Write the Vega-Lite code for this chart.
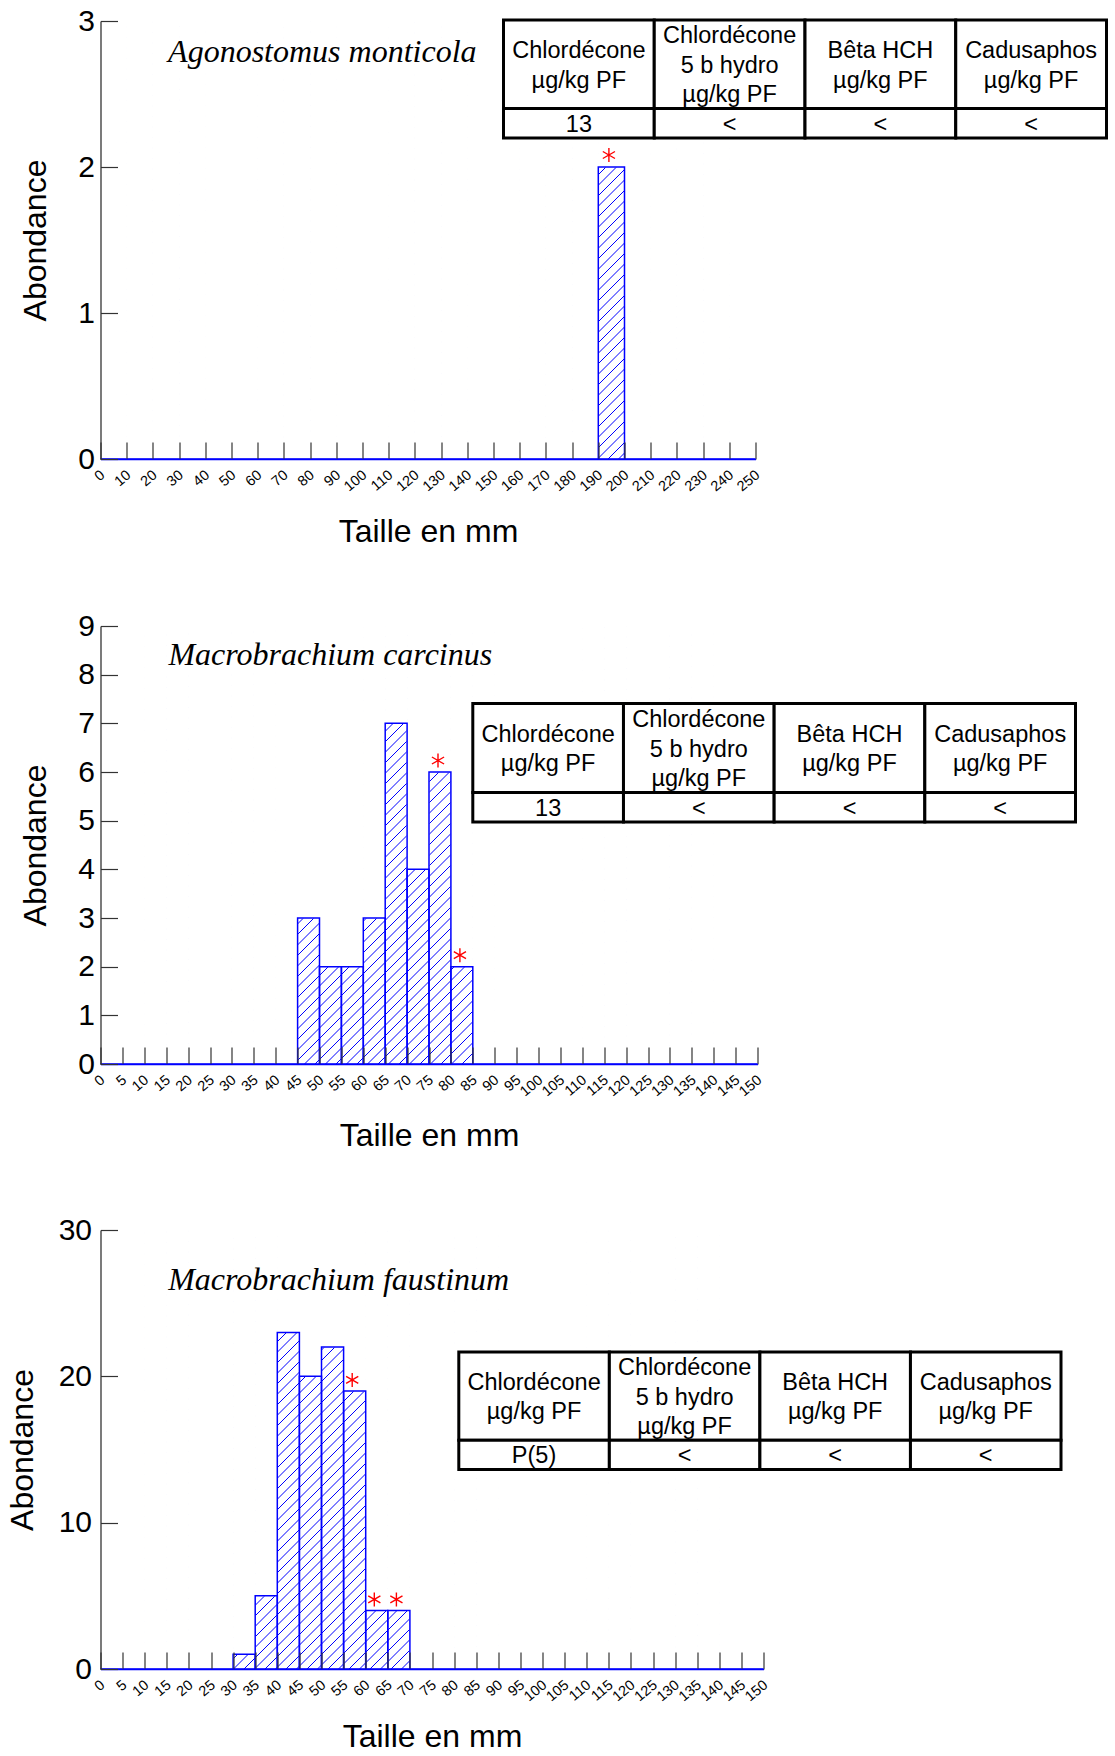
{
  "$schema": "https://vega.github.io/schema/vega-lite/v6.json",
  "background": "white",
  "padding": {"left": 6.5, "top": 6, "right": 0, "bottom": 0},
  "columns": 1,
  "align": "none",
  "spacing": 63,
  "config": {
    "view": {"stroke": null},
    "font": "Liberation Sans",
    "axis": {"labelColor": "black", "titleColor": "black", "titleFontWeight": "normal", "grid": false, "zindex": 1},
    "axisX": {"tickSize": -17, "tickColor": "#333333", "tickWidth": 1.2, "domainColor": "#0000ff", "domainWidth": 1.5,
      "labelAngle": -40, "labelAlign": "right", "labelBaseline": "middle", "labelFontSize": 14.5, "labelPadding": 31, "labelOffset": 2,
      "labelFlush": false, "labelOverlap": false, "titleFontSize": 32},
    "axisY": {"tickSize": -17, "tickColor": "#333333", "tickWidth": 1.2, "domainColor": "#333333", "domainWidth": 1.3,
      "labelFontSize": 30, "labelPadding": 23, "titleFontSize": 32}
  },
  "datasets": {
    "ago": [
      {"de": 0, "a": 10, "effectif": 0}, {"de": 10, "a": 20, "effectif": 0}, {"de": 20, "a": 30, "effectif": 0},
      {"de": 30, "a": 40, "effectif": 0}, {"de": 40, "a": 50, "effectif": 0}, {"de": 50, "a": 60, "effectif": 0},
      {"de": 60, "a": 70, "effectif": 0}, {"de": 70, "a": 80, "effectif": 0}, {"de": 80, "a": 90, "effectif": 0},
      {"de": 90, "a": 100, "effectif": 0}, {"de": 100, "a": 110, "effectif": 0}, {"de": 110, "a": 120, "effectif": 0},
      {"de": 120, "a": 130, "effectif": 0}, {"de": 130, "a": 140, "effectif": 0}, {"de": 140, "a": 150, "effectif": 0},
      {"de": 150, "a": 160, "effectif": 0}, {"de": 160, "a": 170, "effectif": 0}, {"de": 170, "a": 180, "effectif": 0},
      {"de": 180, "a": 190, "effectif": 0}, {"de": 190, "a": 200, "effectif": 2, "marque": true},
      {"de": 200, "a": 210, "effectif": 0}, {"de": 210, "a": 220, "effectif": 0}, {"de": 220, "a": 230, "effectif": 0},
      {"de": 230, "a": 240, "effectif": 0}, {"de": 240, "a": 250, "effectif": 0}
    ],
    "carcinus": [
      {"de": 0, "a": 5, "effectif": 0}, {"de": 5, "a": 10, "effectif": 0}, {"de": 10, "a": 15, "effectif": 0},
      {"de": 15, "a": 20, "effectif": 0}, {"de": 20, "a": 25, "effectif": 0}, {"de": 25, "a": 30, "effectif": 0},
      {"de": 30, "a": 35, "effectif": 0}, {"de": 35, "a": 40, "effectif": 0}, {"de": 40, "a": 45, "effectif": 0},
      {"de": 45, "a": 50, "effectif": 3}, {"de": 50, "a": 55, "effectif": 2}, {"de": 55, "a": 60, "effectif": 2},
      {"de": 60, "a": 65, "effectif": 3}, {"de": 65, "a": 70, "effectif": 7}, {"de": 70, "a": 75, "effectif": 4},
      {"de": 75, "a": 80, "effectif": 6, "marque": true}, {"de": 80, "a": 85, "effectif": 2, "marque": true},
      {"de": 85, "a": 90, "effectif": 0}, {"de": 90, "a": 95, "effectif": 0}, {"de": 95, "a": 100, "effectif": 0},
      {"de": 100, "a": 105, "effectif": 0}, {"de": 105, "a": 110, "effectif": 0}, {"de": 110, "a": 115, "effectif": 0},
      {"de": 115, "a": 120, "effectif": 0}, {"de": 120, "a": 125, "effectif": 0}, {"de": 125, "a": 130, "effectif": 0},
      {"de": 130, "a": 135, "effectif": 0}, {"de": 135, "a": 140, "effectif": 0}, {"de": 140, "a": 145, "effectif": 0},
      {"de": 145, "a": 150, "effectif": 0}
    ],
    "faustinum": [
      {"de": 0, "a": 5, "effectif": 0}, {"de": 5, "a": 10, "effectif": 0}, {"de": 10, "a": 15, "effectif": 0},
      {"de": 15, "a": 20, "effectif": 0}, {"de": 20, "a": 25, "effectif": 0}, {"de": 25, "a": 30, "effectif": 0},
      {"de": 30, "a": 35, "effectif": 1}, {"de": 35, "a": 40, "effectif": 5}, {"de": 40, "a": 45, "effectif": 23},
      {"de": 45, "a": 50, "effectif": 20}, {"de": 50, "a": 55, "effectif": 22},
      {"de": 55, "a": 60, "effectif": 19, "marque": true}, {"de": 60, "a": 65, "effectif": 4, "marque": true},
      {"de": 65, "a": 70, "effectif": 4, "marque": true},
      {"de": 70, "a": 75, "effectif": 0}, {"de": 75, "a": 80, "effectif": 0}, {"de": 80, "a": 85, "effectif": 0},
      {"de": 85, "a": 90, "effectif": 0}, {"de": 90, "a": 95, "effectif": 0}, {"de": 95, "a": 100, "effectif": 0},
      {"de": 100, "a": 105, "effectif": 0}, {"de": 105, "a": 110, "effectif": 0}, {"de": 110, "a": 115, "effectif": 0},
      {"de": 115, "a": 120, "effectif": 0}, {"de": 120, "a": 125, "effectif": 0}, {"de": 125, "a": 130, "effectif": 0},
      {"de": 130, "a": 135, "effectif": 0}, {"de": 135, "a": 140, "effectif": 0}, {"de": 140, "a": 145, "effectif": 0},
      {"de": 145, "a": 150, "effectif": 0}
    ],
    "cellules": [
      {"colonne": "Chlordécone", "haut": 0, "bas": 3}, {"colonne": "Chlordécone", "haut": 3, "bas": 4},
      {"colonne": "Chlordécone 5 b hydro", "haut": 0, "bas": 3}, {"colonne": "Chlordécone 5 b hydro", "haut": 3, "bas": 4},
      {"colonne": "Bêta HCH", "haut": 0, "bas": 3}, {"colonne": "Bêta HCH", "haut": 3, "bas": 4},
      {"colonne": "Cadusaphos", "haut": 0, "bas": 3}, {"colonne": "Cadusaphos", "haut": 3, "bas": 4}
    ],
    "entete": [
      {"colonne": "Chlordécone", "ligne": 1, "texte": "Chlordécone"},
      {"colonne": "Chlordécone", "ligne": 2, "texte": "µg/kg PF"},
      {"colonne": "Chlordécone 5 b hydro", "ligne": 0.5, "texte": "Chlordécone"},
      {"colonne": "Chlordécone 5 b hydro", "ligne": 1.5, "texte": "5 b hydro"},
      {"colonne": "Chlordécone 5 b hydro", "ligne": 2.5, "texte": "µg/kg PF"},
      {"colonne": "Bêta HCH", "ligne": 1, "texte": "Bêta HCH"},
      {"colonne": "Bêta HCH", "ligne": 2, "texte": "µg/kg PF"},
      {"colonne": "Cadusaphos", "ligne": 1, "texte": "Cadusaphos"},
      {"colonne": "Cadusaphos", "ligne": 2, "texte": "µg/kg PF"}
    ],
    "valeurs": [
      {"espece": "Agonostomus monticola", "colonne": "Chlordécone", "texte": "13"},
      {"espece": "Agonostomus monticola", "colonne": "Chlordécone 5 b hydro", "texte": "<"},
      {"espece": "Agonostomus monticola", "colonne": "Bêta HCH", "texte": "<"},
      {"espece": "Agonostomus monticola", "colonne": "Cadusaphos", "texte": "<"},
      {"espece": "Macrobrachium carcinus", "colonne": "Chlordécone", "texte": "13"},
      {"espece": "Macrobrachium carcinus", "colonne": "Chlordécone 5 b hydro", "texte": "<"},
      {"espece": "Macrobrachium carcinus", "colonne": "Bêta HCH", "texte": "<"},
      {"espece": "Macrobrachium carcinus", "colonne": "Cadusaphos", "texte": "<"},
      {"espece": "Macrobrachium faustinum", "colonne": "Chlordécone", "texte": "P(5)"},
      {"espece": "Macrobrachium faustinum", "colonne": "Chlordécone 5 b hydro", "texte": "<"},
      {"espece": "Macrobrachium faustinum", "colonne": "Bêta HCH", "texte": "<"},
      {"espece": "Macrobrachium faustinum", "colonne": "Cadusaphos", "texte": "<"}
    ]
  },
  "concat": [
    {
      "width": 655,
      "height": 438,
      "resolve": {"scale": {"x": "independent", "y": "independent"}},
      "layer": [
        {
          "layer": [
            {
              "data": {"values": [{}]},
              "mark": {"type": "point", "clip": true, "filled": false, "opacity": 1, "stroke": "#0000ff", "strokeWidth": 1, "size": 4,
                "shape": "M-331.5 -225l-450 450m460.5 -450l-450 450m460.5 -450l-450 450m460.5 -450l-450 450m460.5 -450l-450 450m460.5 -450l-450 450m460.5 -450l-450 450m460.5 -450l-450 450m460.5 -450l-450 450m460.5 -450l-450 450m460.5 -450l-450 450m460.5 -450l-450 450m460.5 -450l-450 450m460.5 -450l-450 450m460.5 -450l-450 450m460.5 -450l-450 450m460.5 -450l-450 450m460.5 -450l-450 450m460.5 -450l-450 450m460.5 -450l-450 450m460.5 -450l-450 450m460.5 -450l-450 450m460.5 -450l-450 450m460.5 -450l-450 450m460.5 -450l-450 450m460.5 -450l-450 450m460.5 -450l-450 450m460.5 -450l-450 450m460.5 -450l-450 450m460.5 -450l-450 450m460.5 -450l-450 450m460.5 -450l-450 450m460.5 -450l-450 450m460.5 -450l-450 450m460.5 -450l-450 450m460.5 -450l-450 450m460.5 -450l-450 450m460.5 -450l-450 450m460.5 -450l-450 450m460.5 -450l-450 450m460.5 -450l-450 450m460.5 -450l-450 450m460.5 -450l-450 450m460.5 -450l-450 450m460.5 -450l-450 450m460.5 -450l-450 450m460.5 -450l-450 450m460.5 -450l-450 450m460.5 -450l-450 450m460.5 -450l-450 450m460.5 -450l-450 450m460.5 -450l-450 450m460.5 -450l-450 450m460.5 -450l-450 450m460.5 -450l-450 450m460.5 -450l-450 450m460.5 -450l-450 450m460.5 -450l-450 450m460.5 -450l-450 450m460.5 -450l-450 450m460.5 -450l-450 450m460.5 -450l-450 450m460.5 -450l-450 450m460.5 -450l-450 450m460.5 -450l-450 450m460.5 -450l-450 450m460.5 -450l-450 450m460.5 -450l-450 450m460.5 -450l-450 450m460.5 -450l-450 450m460.5 -450l-450 450m460.5 -450l-450 450m460.5 -450l-450 450m460.5 -450l-450 450m460.5 -450l-450 450m460.5 -450l-450 450m460.5 -450l-450 450m460.5 -450l-450 450m460.5 -450l-450 450m460.5 -450l-450 450m460.5 -450l-450 450m460.5 -450l-450 450m460.5 -450l-450 450m460.5 -450l-450 450m460.5 -450l-450 450m460.5 -450l-450 450m460.5 -450l-450 450m460.5 -450l-450 450m460.5 -450l-450 450m460.5 -450l-450 450m460.5 -450l-450 450m460.5 -450l-450 450m460.5 -450l-450 450m460.5 -450l-450 450m460.5 -450l-450 450m460.5 -450l-450 450m460.5 -450l-450 450m460.5 -450l-450 450m460.5 -450l-450 450m460.5 -450l-450 450m460.5 -450l-450 450m460.5 -450l-450 450m460.5 -450l-450 450m460.5 -450l-450 450m460.5 -450l-450 450m460.5 -450l-450 450m460.5 -450l-450 450m460.5 -450l-450 450m460.5 -450l-450 450m460.5 -450l-450 450m460.5 -450l-450 450m460.5 -450l-450 450m460.5 -450l-450 450m460.5 -450l-450 450m460.5 -450l-450 450m460.5 -450l-450 450m460.5 -450l-450 450m460.5 -450l-450 450m460.5 -450l-450 450m460.5 -450l-450 450m460.5 -450l-450 450m460.5 -450l-450 450m460.5 -450l-450 450m460.5 -450l-450 450m460.5 -450l-450 450m460.5 -450l-450 450m460.5 -450l-450 450m460.5 -450l-450 450m460.5 -450l-450 450m460.5 -450l-450 450m460.5 -450l-450 450m460.5 -450"},
              "encoding": {
                "x": {"datum": 125, "type": "quantitative", "axis": {"title": "Taille en mm", "values": [0, 10, 20, 30, 40, 50, 60, 70, 80, 90, 100, 110, 120, 130, 140, 150, 160, 170, 180, 190, 200, 210, 220, 230, 240, 250], "titlePadding": 22.5, "zindex": 1}},
                "y": {"datum": 1.5, "type": "quantitative", "axis": {"title": "Abondance", "values": [0, 1, 2, 3], "format": "d", "titlePadding": 25.5, "zindex": 1}}
              }
            },
            {
              "data": {"name": "ago"},
              "encoding": {
                "x": {"field": "de", "type": "quantitative", "scale": {"domain": [0, 250], "nice": false, "zero": false},
                  "axis": {"title": "Taille en mm", "values": [0, 10, 20, 30, 40, 50, 60, 70, 80, 90, 100, 110, 120, 130, 140, 150, 160, 170, 180, 190, 200, 210, 220, 230, 240, 250], "titlePadding": 22.5, "zindex": 1}},
                "y": {"field": "effectif", "type": "quantitative", "scale": {"domain": [0, 3], "nice": false},
                  "axis": {"title": "Abondance", "values": [0, 1, 2, 3], "format": "d", "titlePadding": 25.5, "zindex": 1}}
              },
              "layer": [
                {"mark": {"type": "rect", "fill": "white", "stroke": "white", "strokeWidth": 1}, "encoding": {"x2": {"field": "a"}, "y2": {"datum": 3}}},
                {"mark": {"type": "rect", "fill": "transparent", "stroke": "#0000ff", "strokeWidth": 1.5}, "encoding": {"x2": {"field": "a"}, "y2": {"datum": 0}}},
                {
                  "transform": [{"filter": "datum.marque"}],
                  "mark": {"type": "point", "filled": false, "opacity": 1, "stroke": "#ff0000", "strokeWidth": 1.4, "size": 196,
                    "shape": "M0 -1L0 1M-0.87 -0.5L0.87 0.5M-0.87 0.5L0.87 -0.5"},
                  "encoding": {"xOffset": {"value": 10.6}, "yOffset": {"value": -12}}
                }
              ]
            },
            {
              "data": {"values": [{"espece": "Agonostomus monticola"}]},
              "mark": {"type": "text", "font": "Liberation Serif", "fontStyle": "italic", "fontSize": 32, "align": "left", "baseline": "alphabetic", "color": "black"},
              "encoding": {
                "x": {"datum": 25.8, "type": "quantitative", "axis": {"title": "Taille en mm", "values": [0, 10, 20, 30, 40, 50, 60, 70, 80, 90, 100, 110, 120, 130, 140, 150, 160, 170, 180, 190, 200, 210, 220, 230, 240, 250], "titlePadding": 22.5, "zindex": 1}},
                "y": {"datum": 2.72, "type": "quantitative", "axis": {"title": "Abondance", "values": [0, 1, 2, 3], "format": "d", "titlePadding": 25.5, "zindex": 1}},
                "text": {"field": "espece"}
              }
            }
          ]
        },
        {
          "encoding": {
            "x": {"field": "colonne", "type": "nominal", "axis": null,
              "scale": {"domain": ["Chlordécone", "Chlordécone 5 b hydro", "Bêta HCH", "Cadusaphos"], "range": [403, 1006], "paddingInner": 0, "paddingOuter": 0}}
          },
          "layer": [
            {
              "data": {"name": "cellules"},
              "mark": {"type": "rect", "fill": "white", "stroke": "black", "strokeWidth": 3},
              "encoding": {"y": {"field": "haut", "type": "quantitative", "axis": null, "scale": {"domain": [0, 4], "range": [-1.1, 117.1]}}, "y2": {"field": "bas"}}
            },
            {
              "data": {"name": "entete"},
              "mark": {"type": "text", "fontSize": 23.5, "align": "center", "baseline": "middle", "color": "black", "dy": 1.5},
              "encoding": {"y": {"field": "ligne", "type": "quantitative", "axis": null}, "text": {"field": "texte"}}
            },
            {
              "data": {"name": "valeurs"},
              "transform": [{"filter": "datum.espece == 'Agonostomus monticola'"}],
              "mark": {"type": "text", "fontSize": 23.5, "align": "center", "baseline": "middle", "color": "black", "dy": 1.5},
              "encoding": {"y": {"datum": 3.5, "type": "quantitative"}, "text": {"field": "texte"}}
            }
          ]
        }
      ]
    },
    {
      "width": 657,
      "height": 438,
      "resolve": {"scale": {"x": "independent", "y": "independent"}},
      "layer": [
        {
          "layer": [
            {
              "data": {"values": [{}]},
              "mark": {"type": "point", "clip": true, "filled": false, "opacity": 1, "stroke": "#0000ff", "strokeWidth": 1, "size": 4,
                "shape": "M-331.5 -225l-450 450m460.5 -450l-450 450m460.5 -450l-450 450m460.5 -450l-450 450m460.5 -450l-450 450m460.5 -450l-450 450m460.5 -450l-450 450m460.5 -450l-450 450m460.5 -450l-450 450m460.5 -450l-450 450m460.5 -450l-450 450m460.5 -450l-450 450m460.5 -450l-450 450m460.5 -450l-450 450m460.5 -450l-450 450m460.5 -450l-450 450m460.5 -450l-450 450m460.5 -450l-450 450m460.5 -450l-450 450m460.5 -450l-450 450m460.5 -450l-450 450m460.5 -450l-450 450m460.5 -450l-450 450m460.5 -450l-450 450m460.5 -450l-450 450m460.5 -450l-450 450m460.5 -450l-450 450m460.5 -450l-450 450m460.5 -450l-450 450m460.5 -450l-450 450m460.5 -450l-450 450m460.5 -450l-450 450m460.5 -450l-450 450m460.5 -450l-450 450m460.5 -450l-450 450m460.5 -450l-450 450m460.5 -450l-450 450m460.5 -450l-450 450m460.5 -450l-450 450m460.5 -450l-450 450m460.5 -450l-450 450m460.5 -450l-450 450m460.5 -450l-450 450m460.5 -450l-450 450m460.5 -450l-450 450m460.5 -450l-450 450m460.5 -450l-450 450m460.5 -450l-450 450m460.5 -450l-450 450m460.5 -450l-450 450m460.5 -450l-450 450m460.5 -450l-450 450m460.5 -450l-450 450m460.5 -450l-450 450m460.5 -450l-450 450m460.5 -450l-450 450m460.5 -450l-450 450m460.5 -450l-450 450m460.5 -450l-450 450m460.5 -450l-450 450m460.5 -450l-450 450m460.5 -450l-450 450m460.5 -450l-450 450m460.5 -450l-450 450m460.5 -450l-450 450m460.5 -450l-450 450m460.5 -450l-450 450m460.5 -450l-450 450m460.5 -450l-450 450m460.5 -450l-450 450m460.5 -450l-450 450m460.5 -450l-450 450m460.5 -450l-450 450m460.5 -450l-450 450m460.5 -450l-450 450m460.5 -450l-450 450m460.5 -450l-450 450m460.5 -450l-450 450m460.5 -450l-450 450m460.5 -450l-450 450m460.5 -450l-450 450m460.5 -450l-450 450m460.5 -450l-450 450m460.5 -450l-450 450m460.5 -450l-450 450m460.5 -450l-450 450m460.5 -450l-450 450m460.5 -450l-450 450m460.5 -450l-450 450m460.5 -450l-450 450m460.5 -450l-450 450m460.5 -450l-450 450m460.5 -450l-450 450m460.5 -450l-450 450m460.5 -450l-450 450m460.5 -450l-450 450m460.5 -450l-450 450m460.5 -450l-450 450m460.5 -450l-450 450m460.5 -450l-450 450m460.5 -450l-450 450m460.5 -450l-450 450m460.5 -450l-450 450m460.5 -450l-450 450m460.5 -450l-450 450m460.5 -450l-450 450m460.5 -450l-450 450m460.5 -450l-450 450m460.5 -450l-450 450m460.5 -450l-450 450m460.5 -450l-450 450m460.5 -450l-450 450m460.5 -450l-450 450m460.5 -450l-450 450m460.5 -450l-450 450m460.5 -450l-450 450m460.5 -450l-450 450m460.5 -450l-450 450m460.5 -450l-450 450m460.5 -450l-450 450m460.5 -450l-450 450m460.5 -450l-450 450m460.5 -450l-450 450m460.5 -450l-450 450m460.5 -450l-450 450m460.5 -450l-450 450m460.5 -450l-450 450m460.5 -450l-450 450m460.5 -450l-450 450m460.5 -450l-450 450m460.5 -450l-450 450m460.5 -450l-450 450m460.5 -450"},
              "encoding": {
                "x": {"datum": 75, "type": "quantitative", "axis": {"title": "Taille en mm", "values": [0, 5, 10, 15, 20, 25, 30, 35, 40, 45, 50, 55, 60, 65, 70, 75, 80, 85, 90, 95, 100, 105, 110, 115, 120, 125, 130, 135, 140, 145, 150], "titlePadding": 21.5, "zindex": 1}},
                "y": {"datum": 4.5, "type": "quantitative", "axis": {"title": "Abondance", "values": [0, 1, 2, 3, 4, 5, 6, 7, 8, 9], "format": "d", "titlePadding": 25.5, "zindex": 1}}
              }
            },
            {
              "data": {"name": "carcinus"},
              "encoding": {
                "x": {"field": "de", "type": "quantitative", "scale": {"domain": [0, 150], "nice": false, "zero": false},
                  "axis": {"title": "Taille en mm", "values": [0, 5, 10, 15, 20, 25, 30, 35, 40, 45, 50, 55, 60, 65, 70, 75, 80, 85, 90, 95, 100, 105, 110, 115, 120, 125, 130, 135, 140, 145, 150], "titlePadding": 21.5, "zindex": 1}},
                "y": {"field": "effectif", "type": "quantitative", "scale": {"domain": [0, 9], "nice": false},
                  "axis": {"title": "Abondance", "values": [0, 1, 2, 3, 4, 5, 6, 7, 8, 9], "format": "d", "titlePadding": 25.5, "zindex": 1}}
              },
              "layer": [
                {"mark": {"type": "rect", "fill": "white", "stroke": "white", "strokeWidth": 1}, "encoding": {"x2": {"field": "a"}, "y2": {"datum": 9}}},
                {"mark": {"type": "rect", "fill": "transparent", "stroke": "#0000ff", "strokeWidth": 1.5}, "encoding": {"x2": {"field": "a"}, "y2": {"datum": 0}}},
                {
                  "transform": [{"filter": "datum.marque"}],
                  "mark": {"type": "point", "filled": false, "opacity": 1, "stroke": "#ff0000", "strokeWidth": 1.4, "size": 196,
                    "shape": "M0 -1L0 1M-0.87 -0.5L0.87 0.5M-0.87 0.5L0.87 -0.5"},
                  "encoding": {"xOffset": {"value": 9}, "yOffset": {"value": -11.5}}
                }
              ]
            },
            {
              "data": {"values": [{"espece": "Macrobrachium carcinus"}]},
              "mark": {"type": "text", "font": "Liberation Serif", "fontStyle": "italic", "fontSize": 32, "align": "left", "baseline": "alphabetic", "color": "black"},
              "encoding": {
                "x": {"datum": 15.5, "type": "quantitative", "axis": {"title": "Taille en mm", "values": [0, 5, 10, 15, 20, 25, 30, 35, 40, 45, 50, 55, 60, 65, 70, 75, 80, 85, 90, 95, 100, 105, 110, 115, 120, 125, 130, 135, 140, 145, 150], "titlePadding": 21.5, "zindex": 1}},
                "y": {"datum": 8.2, "type": "quantitative", "axis": {"title": "Abondance", "values": [0, 1, 2, 3, 4, 5, 6, 7, 8, 9], "format": "d", "titlePadding": 25.5, "zindex": 1}},
                "text": {"field": "espece"}
              }
            }
          ]
        },
        {
          "encoding": {
            "x": {"field": "colonne", "type": "nominal", "axis": null,
              "scale": {"domain": ["Chlordécone", "Chlordécone 5 b hydro", "Bêta HCH", "Cadusaphos"], "range": [372.3, 975], "paddingInner": 0, "paddingOuter": 0}}
          },
          "layer": [
            {
              "data": {"name": "cellules"},
              "mark": {"type": "rect", "fill": "white", "stroke": "black", "strokeWidth": 3},
              "encoding": {"y": {"field": "haut", "type": "quantitative", "axis": null, "scale": {"domain": [0, 4], "range": [77.6, 196]}}, "y2": {"field": "bas"}}
            },
            {
              "data": {"name": "entete"},
              "mark": {"type": "text", "fontSize": 23.5, "align": "center", "baseline": "middle", "color": "black", "dy": 1.5},
              "encoding": {"y": {"field": "ligne", "type": "quantitative", "axis": null}, "text": {"field": "texte"}}
            },
            {
              "data": {"name": "valeurs"},
              "transform": [{"filter": "datum.espece == 'Macrobrachium carcinus'"}],
              "mark": {"type": "text", "fontSize": 23.5, "align": "center", "baseline": "middle", "color": "black", "dy": 1.5},
              "encoding": {"y": {"datum": 3.5, "type": "quantitative"}, "text": {"field": "texte"}}
            }
          ]
        }
      ]
    },
    {
      "width": 663,
      "height": 439,
      "resolve": {"scale": {"x": "independent", "y": "independent"}},
      "layer": [
        {
          "layer": [
            {
              "data": {"values": [{}]},
              "mark": {"type": "point", "clip": true, "filled": false, "opacity": 1, "stroke": "#0000ff", "strokeWidth": 1, "size": 4,
                "shape": "M-331.5 -225l-450 450m460.5 -450l-450 450m460.5 -450l-450 450m460.5 -450l-450 450m460.5 -450l-450 450m460.5 -450l-450 450m460.5 -450l-450 450m460.5 -450l-450 450m460.5 -450l-450 450m460.5 -450l-450 450m460.5 -450l-450 450m460.5 -450l-450 450m460.5 -450l-450 450m460.5 -450l-450 450m460.5 -450l-450 450m460.5 -450l-450 450m460.5 -450l-450 450m460.5 -450l-450 450m460.5 -450l-450 450m460.5 -450l-450 450m460.5 -450l-450 450m460.5 -450l-450 450m460.5 -450l-450 450m460.5 -450l-450 450m460.5 -450l-450 450m460.5 -450l-450 450m460.5 -450l-450 450m460.5 -450l-450 450m460.5 -450l-450 450m460.5 -450l-450 450m460.5 -450l-450 450m460.5 -450l-450 450m460.5 -450l-450 450m460.5 -450l-450 450m460.5 -450l-450 450m460.5 -450l-450 450m460.5 -450l-450 450m460.5 -450l-450 450m460.5 -450l-450 450m460.5 -450l-450 450m460.5 -450l-450 450m460.5 -450l-450 450m460.5 -450l-450 450m460.5 -450l-450 450m460.5 -450l-450 450m460.5 -450l-450 450m460.5 -450l-450 450m460.5 -450l-450 450m460.5 -450l-450 450m460.5 -450l-450 450m460.5 -450l-450 450m460.5 -450l-450 450m460.5 -450l-450 450m460.5 -450l-450 450m460.5 -450l-450 450m460.5 -450l-450 450m460.5 -450l-450 450m460.5 -450l-450 450m460.5 -450l-450 450m460.5 -450l-450 450m460.5 -450l-450 450m460.5 -450l-450 450m460.5 -450l-450 450m460.5 -450l-450 450m460.5 -450l-450 450m460.5 -450l-450 450m460.5 -450l-450 450m460.5 -450l-450 450m460.5 -450l-450 450m460.5 -450l-450 450m460.5 -450l-450 450m460.5 -450l-450 450m460.5 -450l-450 450m460.5 -450l-450 450m460.5 -450l-450 450m460.5 -450l-450 450m460.5 -450l-450 450m460.5 -450l-450 450m460.5 -450l-450 450m460.5 -450l-450 450m460.5 -450l-450 450m460.5 -450l-450 450m460.5 -450l-450 450m460.5 -450l-450 450m460.5 -450l-450 450m460.5 -450l-450 450m460.5 -450l-450 450m460.5 -450l-450 450m460.5 -450l-450 450m460.5 -450l-450 450m460.5 -450l-450 450m460.5 -450l-450 450m460.5 -450l-450 450m460.5 -450l-450 450m460.5 -450l-450 450m460.5 -450l-450 450m460.5 -450l-450 450m460.5 -450l-450 450m460.5 -450l-450 450m460.5 -450l-450 450m460.5 -450l-450 450m460.5 -450l-450 450m460.5 -450l-450 450m460.5 -450l-450 450m460.5 -450l-450 450m460.5 -450l-450 450m460.5 -450l-450 450m460.5 -450l-450 450m460.5 -450l-450 450m460.5 -450l-450 450m460.5 -450l-450 450m460.5 -450l-450 450m460.5 -450l-450 450m460.5 -450l-450 450m460.5 -450l-450 450m460.5 -450l-450 450m460.5 -450l-450 450m460.5 -450l-450 450m460.5 -450l-450 450m460.5 -450l-450 450m460.5 -450l-450 450m460.5 -450l-450 450m460.5 -450l-450 450m460.5 -450l-450 450m460.5 -450l-450 450m460.5 -450l-450 450m460.5 -450l-450 450m460.5 -450l-450 450m460.5 -450l-450 450m460.5 -450l-450 450m460.5 -450l-450 450m460.5 -450l-450 450m460.5 -450"},
              "encoding": {
                "x": {"datum": 75, "type": "quantitative", "axis": {"title": "Taille en mm", "values": [0, 5, 10, 15, 20, 25, 30, 35, 40, 45, 50, 55, 60, 65, 70, 75, 80, 85, 90, 95, 100, 105, 110, 115, 120, 125, 130, 135, 140, 145, 150], "titlePadding": 18, "zindex": 1}},
                "y": {"datum": 15, "type": "quantitative", "axis": {"title": "Abondance", "values": [0, 10, 20, 30], "format": "d", "labelPadding": 26, "titlePadding": 18.2, "zindex": 1}}
              }
            },
            {
              "data": {"name": "faustinum"},
              "encoding": {
                "x": {"field": "de", "type": "quantitative", "scale": {"domain": [0, 150], "nice": false, "zero": false},
                  "axis": {"title": "Taille en mm", "values": [0, 5, 10, 15, 20, 25, 30, 35, 40, 45, 50, 55, 60, 65, 70, 75, 80, 85, 90, 95, 100, 105, 110, 115, 120, 125, 130, 135, 140, 145, 150], "titlePadding": 18, "zindex": 1}},
                "y": {"field": "effectif", "type": "quantitative", "scale": {"domain": [0, 30], "nice": false},
                  "axis": {"title": "Abondance", "values": [0, 10, 20, 30], "format": "d", "labelPadding": 26, "titlePadding": 18.2, "zindex": 1}}
              },
              "layer": [
                {"mark": {"type": "rect", "fill": "white", "stroke": "white", "strokeWidth": 1}, "encoding": {"x2": {"field": "a"}, "y2": {"datum": 30}}},
                {"mark": {"type": "rect", "fill": "transparent", "stroke": "#0000ff", "strokeWidth": 1.5}, "encoding": {"x2": {"field": "a"}, "y2": {"datum": 0}}},
                {
                  "transform": [{"filter": "datum.marque"}],
                  "mark": {"type": "point", "filled": false, "opacity": 1, "stroke": "#ff0000", "strokeWidth": 1.4, "size": 196,
                    "shape": "M0 -1L0 1M-0.87 -0.5L0.87 0.5M-0.87 0.5L0.87 -0.5"},
                  "encoding": {"xOffset": {"value": 8.6}, "yOffset": {"value": -11}}
                }
              ]
            },
            {
              "data": {"values": [{"espece": "Macrobrachium faustinum"}]},
              "mark": {"type": "text", "font": "Liberation Serif", "fontStyle": "italic", "fontSize": 32, "align": "left", "baseline": "alphabetic", "color": "black"},
              "encoding": {
                "x": {"datum": 15.3, "type": "quantitative", "axis": {"title": "Taille en mm", "values": [0, 5, 10, 15, 20, 25, 30, 35, 40, 45, 50, 55, 60, 65, 70, 75, 80, 85, 90, 95, 100, 105, 110, 115, 120, 125, 130, 135, 140, 145, 150], "titlePadding": 18, "zindex": 1}},
                "y": {"datum": 25.9, "type": "quantitative", "axis": {"title": "Abondance", "values": [0, 10, 20, 30], "format": "d", "labelPadding": 26, "titlePadding": 18.2, "zindex": 1}},
                "text": {"field": "espece"}
              }
            }
          ]
        },
        {
          "encoding": {
            "x": {"field": "colonne", "type": "nominal", "axis": null,
              "scale": {"domain": ["Chlordécone", "Chlordécone 5 b hydro", "Bêta HCH", "Cadusaphos"], "range": [358.3, 960.5], "paddingInner": 0, "paddingOuter": 0}}
          },
          "layer": [
            {
              "data": {"name": "cellules"},
              "mark": {"type": "rect", "fill": "white", "stroke": "black", "strokeWidth": 3},
              "encoding": {"y": {"field": "haut", "type": "quantitative", "axis": null, "scale": {"domain": [0, 4], "range": [122, 239.5]}}, "y2": {"field": "bas"}}
            },
            {
              "data": {"name": "entete"},
              "mark": {"type": "text", "fontSize": 23.5, "align": "center", "baseline": "middle", "color": "black", "dy": 1.5},
              "encoding": {"y": {"field": "ligne", "type": "quantitative", "axis": null}, "text": {"field": "texte"}}
            },
            {
              "data": {"name": "valeurs"},
              "transform": [{"filter": "datum.espece == 'Macrobrachium faustinum'"}],
              "mark": {"type": "text", "fontSize": 23.5, "align": "center", "baseline": "middle", "color": "black", "dy": 1.5},
              "encoding": {"y": {"datum": 3.5, "type": "quantitative"}, "text": {"field": "texte"}}
            }
          ]
        }
      ]
    }
  ]
}
